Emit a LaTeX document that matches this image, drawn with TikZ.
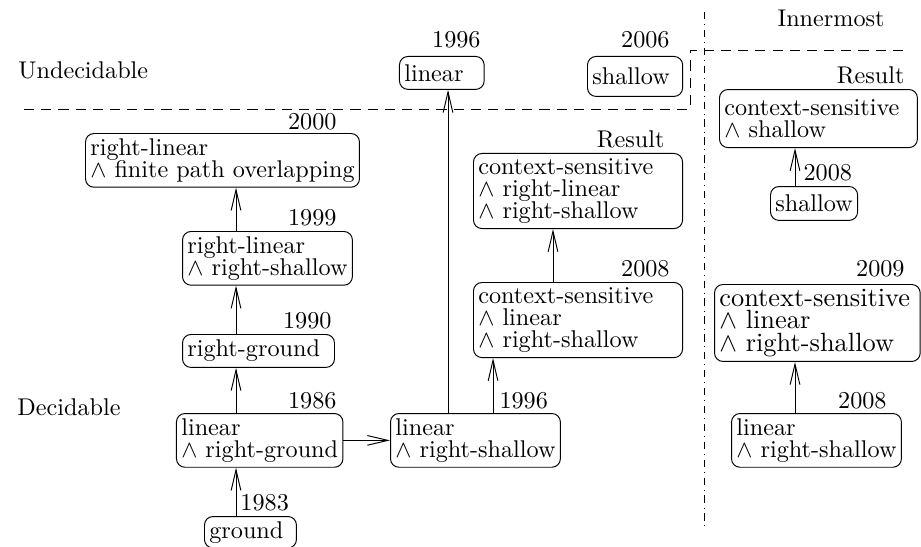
\documentclass[tikz,border=0pt]{standalone}
\usetikzlibrary{arrows.meta}

\begin{document}
\begin{tikzpicture}[
 box/.style={draw,rounded corners=3.5pt,align=left,anchor=north west,inner xsep=2pt,inner ysep=2pt,font=\fontsize{10}{9.2}\selectfont},
 yr/.style={anchor=base east,inner sep=0pt},
 yl/.style={anchor=base west,inner sep=0pt},
 arr/.style={-{Straight Barb[length=8.5pt,width=4pt]}},
 border/.style={dash pattern=on 4.2pt off 2.9pt}
]
\useasboundingbox (0,0) rectangle (13.377,-7.931);
% region titles
\node[yl] (undec) at (0.261,-1.147) {Undecidable};
\node[yl] (dec) at (0.247,-6.028) {Decidable};
\node[yl] (inner) at (11.286,-0.378) {Innermost};
% left column
\node[box,text width=34pt,minimum height=12pt] (ground) at (2.963,-7.495) {ground};
\node[box] (linrg) at (2.556,-5.999) {linear\\$\wedge$ right-ground};
\node[box,text width=58.8pt,minimum height=13.6pt] (rground) at (2.644,-4.851) {right-ground};
\node[box] (rlinrs) at (2.644,-3.355) {right-linear\\$\wedge$ right-shallow};
\node[box] (rlinfpo) at (1.235,-1.932) {right-linear\\$\wedge$ finite path overlapping};
% middle
\node[box] (linrs) at (5.665,-5.999) {linear\\$\wedge$ right-shallow};
\node[box,text width=31pt,minimum height=13.6pt] (lin) at (5.795,-0.813) {linear};
\node[box,text width=35.3pt,minimum height=16.5pt] (shal) at (8.526,-0.813) {shallow};
\node[box,text width=82.4pt] (cslinrs) at (6.870,-4.096) {context-sensitive\\$\wedge$ linear\\$\wedge$ right-shallow};
\node[box,text width=82.4pt] (csrlinrs) at (6.870,-2.222) {context-sensitive\\$\wedge$ right-linear\\$\wedge$ right-shallow};
% innermost
\node[box] (ilinrs) at (10.618,-5.999) {linear\\$\wedge$ right-shallow};
\node[box,text width=81pt,font=\fontsize{10.9}{9.2}\selectfont] (icslinrs) at (10.371,-4.125) {context-sensitive\\$\wedge$ linear\\$\wedge$ right-shallow};
\node[box,minimum height=14pt] (ishal) at (11.184,-2.702) {shallow};
\node[box,text width=77.8pt,minimum height=24pt] (icsshal) at (10.443,-1.293) {context-sensitive\\$\wedge$ shallow};
% years
\node[yl] (y1983) at (3.486,-7.408) {1983};
\node[yr] (y1986) at (4.895,-5.926) {1986};
\node[yr] (y1990) at (4.822,-4.764) {1990};
\node[yr] (y1999) at (4.895,-3.268) {1999};
\node[yr] (y2000) at (4.895,-1.888) {2000};
\node[yr] (y1996a) at (6.987,-0.697) {1996};
\node[yr] (y2006) at (9.732,-0.697) {2006};
\node[yl] (y1996b) at (7.248,-5.926) {1996};
\node[yr] (y2008a) at (9.732,-4.009) {2008};
\node[yr] (resa) at (9.659,-2.135) {Result};
\node[yr] (y2008b) at (12.884,-5.926) {2008};
\node[yr] (y2009) at (13.145,-4.009) {2009};
\node[yl] (y2008c) at (11.664,-2.615) {2008};
\node[yr] (resb) at (13.145,-1.206) {Result};
% arrows
\coordinate (colA) at (3.428,0);
\coordinate (colB) at (6.507,0);
\coordinate (colC) at (7.161,0);
\coordinate (colD) at (8.032,0);
\coordinate (colE) at (11.547,0);
\draw[arr] (ground.north -| colA) -- (linrg.south -| colA);
\draw[arr] (linrg.north -| colA) -- (rground.south -| colA);
\draw[arr] (rground.north -| colA) -- (rlinrs.south -| colA);
\draw[arr] (rlinrs.north -| colA) -- (rlinfpo.south -| colA);
\draw[arr] (linrg.east) -- (linrs.west);
\draw[arr] (linrs.north -| colB) -- (lin.south -| colB);
\draw[arr] (linrs.north -| colC) -- (cslinrs.south -| colC);
\draw[arr] (cslinrs.north -| colD) -- (csrlinrs.south -| colD);
\draw[arr] (ilinrs.north -| colE) -- (icslinrs.south -| colE);
\draw[arr] (ishal.north -| colE) -- (icsshal.south -| colE);
% borders
\coordinate (cut) at (10.022,-1.583);
\draw[border] (0.349,-1.583) -- (cut) -- (10.022,-0.726) -- (13.116,-0.726);
\draw[dash dot] (10.226,-0.174) -- (10.226,-7.713);
\end{tikzpicture}
\end{document}
